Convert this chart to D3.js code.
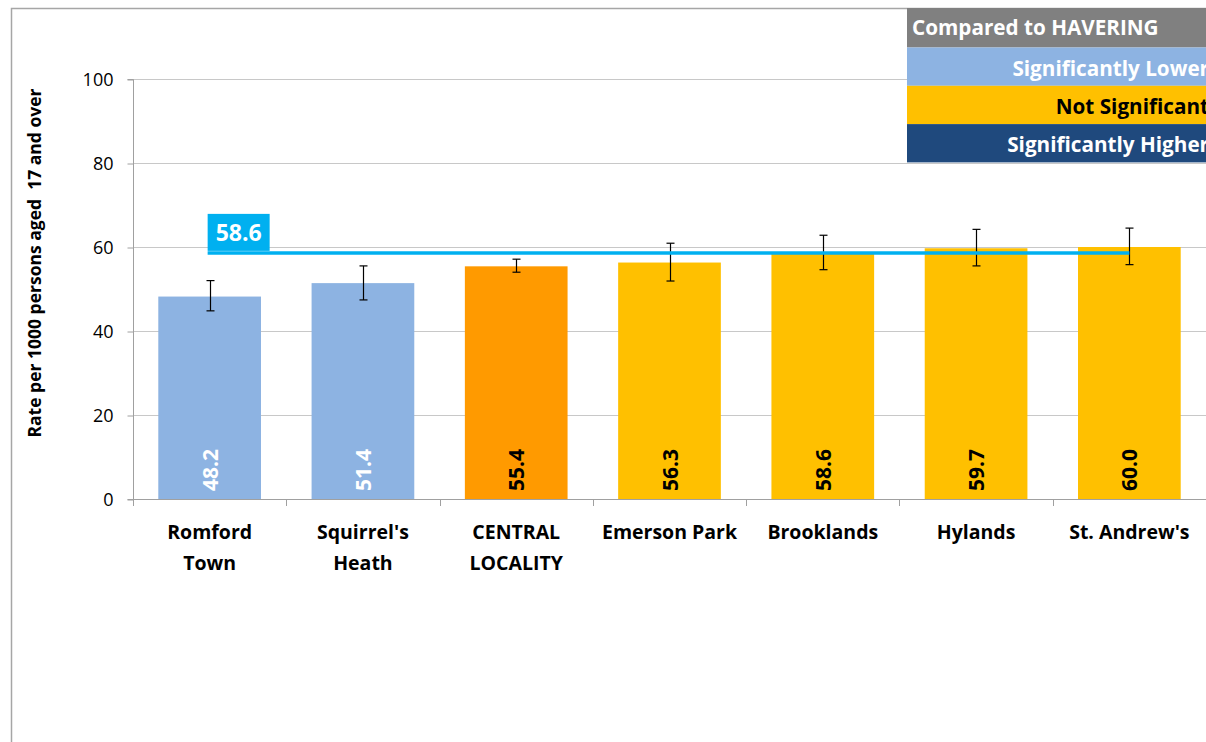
<!DOCTYPE html>
<html>
<head>
    <meta charset="UTF-8">
    <title>Rate per 1000 persons aged 17 and over</title>
    <script src="https://d3js.org/d3.v7.min.js"></script>
    <style>
        body { margin: 0; background: #fff; font-family: "Open Sans", Lato, sans-serif; }
        svg { display: block; }
        .tick text { font-size: 18px; fill: #000; font-family: "Open Sans", sans-serif; }
        .xlab { font-size: 19.5px; font-weight: bold; fill: #000; }
        .barlab { font-size: 21px; font-weight: bold; }
        .leg { font-size: 20.7px; font-weight: bold; }
    </style>
</head>
<body>
<div id="chart"></div>
<script>
    // data
    var categories = ["Romford Town", "Squirrel's Heath", "CENTRAL LOCALITY", "Emerson Park", "Brooklands", "Hylands", "St. Andrew's"];
    var labelLines = [["Romford", "Town"], ["Squirrel's", "Heath"], ["CENTRAL", "LOCALITY"], ["Emerson Park"], ["Brooklands"], ["Hylands"], ["St. Andrew's"]];
    var values = [48.2, 51.4, 55.4, 56.3, 58.6, 59.7, 60.0];
    var lowerCI = [44.8, 47.4, 54.0, 51.9, 54.6, 55.5, 55.8];
    var upperCI = [52.0, 55.5, 57.1, 60.9, 62.8, 64.2, 64.5];
    var significance = ["lower", "lower", "locality", "ns", "ns", "ns", "ns"];
    var havering = 58.6;
    var yTicks = [0, 20, 40, 60, 80, 100];
    var legendRows = [
        {key: "lower", text: "Significantly Lower"},
        {key: "ns", text: "Not Significant"},
        {key: "higher", text: "Significantly Higher"}
    ];

    var fill = {lower: "#8db3e2", ns: "#ffc000", higher: "#1f497d", locality: "#ff9a00"};
    var textFill = {lower: "#fff", ns: "#000", higher: "#fff", locality: "#000"};

    var W = 1206, H = 742;
    var svg = d3.select("#chart").append("svg").attr("width", W).attr("height", H);

    // outer chart frame (runs off the right and bottom)
    svg.append("path")
        .attr("d", "M11.5," + H + "V8.5H" + W)
        .attr("fill", "none").attr("stroke", "#a6a6a6").attr("stroke-width", 1.5);

    var pLeft = 133, pRight = 1206, pTop = 79, pBottom = 499;

    var x = d3.scaleBand().domain(categories).range([pLeft, pRight]).paddingInner(0.33).paddingOuter(0.165);
    var xc = d3.scaleBand().domain(categories).range([pLeft, pRight]);
    var y = d3.scaleLinear().domain([0, 100]).range([pBottom, pTop]);

    // gridlines
    svg.append("g").selectAll("line").data(yTicks.slice(1)).enter().append("line")
        .attr("x1", pLeft).attr("x2", pRight)
        .attr("y1", function (d) { return y(d) + 0.5; })
        .attr("y2", function (d) { return y(d) + 0.5; })
        .attr("stroke", "#c8c8c8").attr("stroke-width", 1);

    // y axis
    var yAxis = svg.append("g").attr("transform", "translate(" + (pLeft + 0.5) + ",0.5)")
        .call(d3.axisLeft(y).tickValues(yTicks).tickSize(6).tickPadding(14));
    yAxis.selectAll("path, line").attr("stroke", "#a0a0a0");
    yAxis.select(".domain").attr("d", "M-6," + pTop + "H0V" + pBottom + "H-6");

    // bars
    svg.append("g").selectAll("rect").data(categories).enter().append("rect")
        .attr("x", function (d) { return x(d); })
        .attr("width", x.bandwidth())
        .attr("y", function (d, i) { return y(values[i]); })
        .attr("height", function (d, i) { return y(0) - y(values[i]); })
        .attr("fill", function (d, i) { return fill[significance[i]]; });

    // x axis
    svg.append("line").attr("x1", pLeft).attr("x2", pRight)
        .attr("y1", pBottom + 0.5).attr("y2", pBottom + 0.5).attr("stroke", "#a0a0a0");
    svg.append("g").selectAll("line").data(categories.concat(["end"])).enter().append("line")
        .attr("x1", function (d, i) { return Math.round(pLeft + i * xc.step()) + 0.5; })
        .attr("x2", function (d, i) { return Math.round(pLeft + i * xc.step()) + 0.5; })
        .attr("y1", pBottom).attr("y2", pBottom + 7)
        .attr("stroke", "#a0a0a0");

    var xl = svg.append("g").selectAll("text").data(categories).enter().append("text")
        .attr("class", "xlab")
        .attr("text-anchor", "middle")
        .attr("transform", function (d) { return "translate(" + (xc(d) + xc.bandwidth() / 2) + ",0)"; });
    xl.each(function (d, i) {
        var t = d3.select(this);
        labelLines[i].forEach(function (s, k) {
            t.append("tspan").attr("x", 0).attr("y", 539 + k * 31).text(s);
        });
    });

    // bar value labels, rotated
    svg.append("g").selectAll("text").data(categories).enter().append("text")
        .attr("class", "barlab")
        .attr("transform", function (d) { return "translate(" + (x(d) + x.bandwidth() / 2 + 8) + "," + (pBottom - 8) + ") rotate(-90)"; })
        .attr("fill", function (d, i) { return textFill[significance[i]]; })
        .text(function (d, i) { return values[i].toFixed(1); });

    // error bars
    var eb = svg.append("g").attr("stroke", "#000").attr("stroke-width", 1.2);
    categories.forEach(function (d, i) {
        var cx = Math.round(x(d) + x.bandwidth() / 2) + 0.5;
        eb.append("line").attr("x1", cx).attr("x2", cx).attr("y1", y(upperCI[i])).attr("y2", y(lowerCI[i]));
        eb.append("line").attr("x1", cx - 4).attr("x2", cx + 4).attr("y1", y(upperCI[i])).attr("y2", y(upperCI[i]));
        eb.append("line").attr("x1", cx - 4).attr("x2", cx + 4).attr("y1", y(lowerCI[i])).attr("y2", y(lowerCI[i]));
    });

    // Havering reference line
    var rx0 = x(categories[0]) + x.bandwidth() / 2 - 2;
    var rx1 = x(categories[categories.length - 1]) + x.bandwidth() / 2;
    svg.append("line").attr("x1", rx0).attr("x2", rx1)
        .attr("y1", y(havering)).attr("y2", y(havering))
        .attr("stroke", "#00b0f0").attr("stroke-width", 3.5);
    svg.append("rect").attr("x", rx0).attr("y", y(havering) - 39).attr("width", 62).attr("height", 37)
        .attr("fill", "#00b0f0");
    svg.append("text").attr("x", rx0 + 31).attr("y", y(havering) - 12)
        .attr("text-anchor", "middle").attr("fill", "#fff")
        .style("font-size", "23px").style("font-weight", "bold")
        .text(havering.toFixed(1));

    // y axis title
    svg.append("text")
        .attr("transform", "translate(41,263) rotate(-90)")
        .attr("text-anchor", "middle")
        .style("font-size", "17.5px").style("font-weight", "bold")
        .attr("xml:space", "preserve")
        .text("Rate per 1000 persons aged  17 and over");

    // legend table
    var lg = svg.append("g");
    var lx = 907, rowH = 38.3;
    lg.append("rect").attr("x", lx).attr("y", 8).attr("width", W - lx).attr("height", 39.5).attr("fill", "#808080");
    lg.append("text").attr("class", "leg").attr("x", lx + 5).attr("y", 35).attr("fill", "#fff").text("Compared to HAVERING");
    legendRows.forEach(function (r, i) {
        var ry = 47.5 + i * rowH;
        lg.append("rect").attr("x", lx).attr("y", ry).attr("width", W - lx).attr("height", rowH).attr("fill", fill[r.key]);
        lg.append("text").attr("class", "leg").attr("x", W + 3).attr("y", ry + 28)
            .attr("text-anchor", "end").attr("fill", textFill[r.key]).text(r.text);
    });
</script>
</body>
</html>
